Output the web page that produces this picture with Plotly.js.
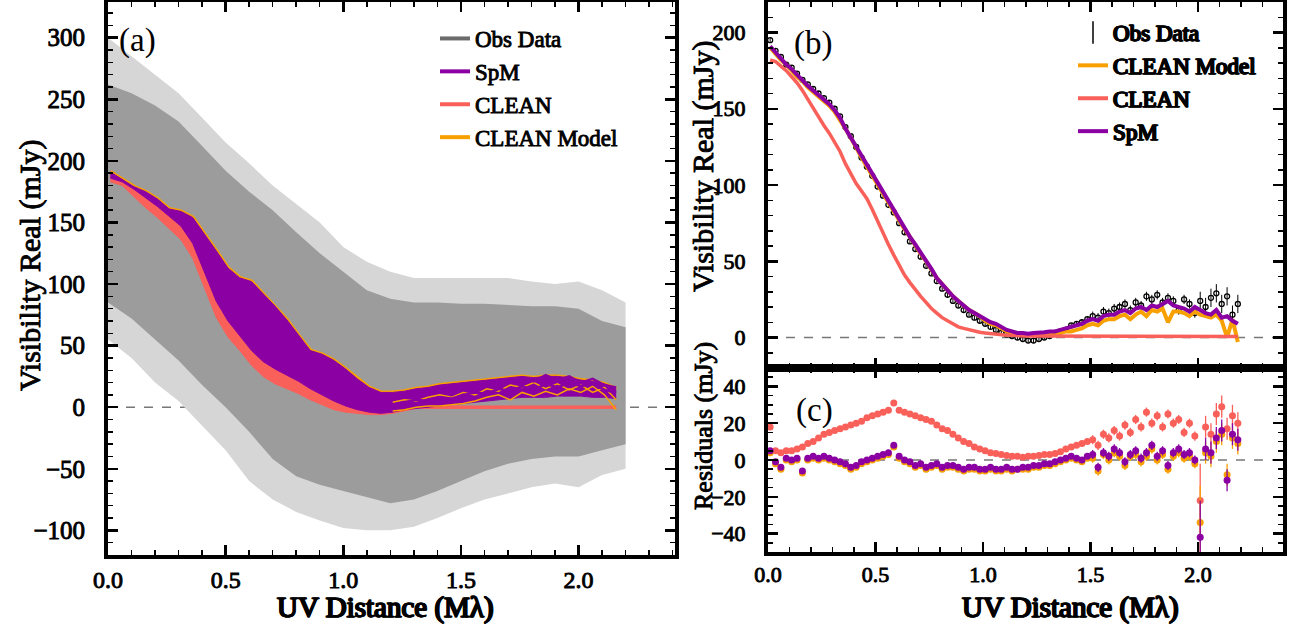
<!DOCTYPE html>
<html><head><meta charset="utf-8">
<script src="https://cdn.plot.ly/plotly-3.0.1.min.js"></script>
<style>
html,body{margin:0;padding:0;background:#fff}
#chart{width:1294px;height:630px}
/* heavy serif look: regular serif face with a thin outline stroke (panel letters stay regular) */
#chart svg text{stroke:#000 !important;stroke-width:0.9px !important;paint-order:stroke fill;}
#chart g.annotation[data-index="0"] text, #chart g.annotation[data-index="1"] text, #chart g.annotation[data-index="2"] text{stroke:none !important;}
</style>
</head><body><div id="chart"></div>
<script>
// ---------- Panel (a): UV grid sampling ----------
const cloudStart = 0.0, cloudStep = 0.1;           // 0.0 .. 2.2
const cloudDenseHi = [262,255,245,232,212,192,175,160,142,125,110,95,88,85,85,84,84,83,82,82,80,70,65];
const cloudDenseLo = [85,72,55,38,18,0,-20,-42,-56,-63,-68,-73,-78,-75,-68,-60,-52,-46,-42,-40,-40,-35,-30];
const cloudHaloHi  = [300,285,270,255,235,215,198,180,165,150,130,118,110,105,105,105,105,105,102,100,102,95,85];
const cloudHaloLo  = [55,40,20,5,-15,-35,-60,-75,-85,-92,-98,-100,-100,-97,-90,-82,-75,-70,-65,-62,-65,-55,-50];

const bandStart = 0.01, bandStep = 0.05;            // 0.01 .. 2.16
const spmHiA  = [191,185,179,175,169,161,159,154,141,127,113,105,102,92,82,71,58,46,43,38,31,23,16,12,12,13,15,16,18,19,20,21,22,23,24,25,24,25,25,24,22,21,19,15];
const spmLoA  = [186,183,177,170,163,155,147,133,110,86,70,58,46,37,31,26,21,15,10,5,1,-2,-4,-5,-4,-2,-1,0,1,2,3,4,5,6,7,8,8,8,9,9,9,8,8,7];
const cleanHiA = [189,186,180,173,166,158,150,136,113,89,73,61,49,40,34,29,24,18,13,8,4,1,0,0,0,1,1,1,1,1,1,1,1,1,1,1,1,1,1,1,1,1,1,1];
const cleanLoA = [183,180,171,162,154,145,136,121,97,73,57,46,34,25,19,15,11,6,2,-2,-4,-5,-6,-6,-5,-3,-1,-1,-1,-1,-1,-1,-1,-1,-1,-1,-1,-1,-1,-1,-1,-1,-1,-1];

const tailStart = 1.21, tailStep = 0.05;            // 1.21 .. 2.16
const modelTailA = [-3,-2,0,1,1,2,3,5,8,10,6,12,9,13,10,15,12,17,10,-2];
const modelTailB = [4,6,5,8,10,8,12,10,15,13,18,16,20,15,19,14,18,12,16,6];
const spmTailA   = [8,10,12,14,13,17,15,19,17,22,20,24,21,26,22,25,20,23,18,16];
const spmTailB   = [2,4,6,5,8,7,10,12,11,15,13,17,14,19,16,20,17,19,14,12];

// ---------- Panels (b) and (c): binned visibilities ----------
const binStart = 0.01, binStep = 0.025;             // 0.01 .. 2.185
const obsData = [195,188,184,179,177,173,169,166,163,160,157,154,150,145,138,132,125,118,112,106,99,93,87,82,75,69,63,58,53,47,42,37,32,28,24,21,18,15,13,11,9,7,5,3,2,1,0,-1,-2,-2,-1,0,1,3,4,5,8,9,10,12,14,13,17,16,19,20,22,18,23,21,27,25,28,23,26,24,18,25,22,16,24,20,26,29,22,27,15,22];
const obsErr  = [1.5,1.5,1.5,1.5,1.5,1.5,1.5,1.5,1.5,1.5,1.5,1.5,1.5,1.5,1.5,1.5,1.5,1.5,1.5,1.5,1.5,1.5,1.5,1.5,1.5,1.5,1.5,1.5,1.5,1.5,1.5,1.5,1.5,1.5,1.5,1.5,1.5,1.5,1.5,1.5,1.5,1.5,1.5,1.5,1.5,1.5,1.5,1.5,1.5,1.5,1.5,1.5,1.5,1.5,1.5,1.5,1.5,1.5,1.5,1.5,3,3,3,3,3,3,3,3,3,3,3,3,3,3,3,3,3,3,3,3,6,6,6,6,6,6,6,6];
const cleanModel = [190,186,182,179,175,171,168,164,161,158,155,152,148,143,137,131,124,118,112,106,100,94,88,82,77,71,66,60,55,50,44,39,35,31,27,24,21,18,16,14,11,9,8,6,4,3,2,2,1.5,2,2,2,2.5,3,3,4,4,5,6,8,9,8,11,12,12,14,15,12,15,17,14,18,17,19,10,17,17,16,14,17,15,14,13,15,11,0,12,-3];
const cleanImage = [182,181,178,175,171,167,162,156,150,144,139,134,128,122,114,107,101,96,91,84,76,68,61,54,47,41,36,31,27,23,19,16,13,11,9,7,6,5,4,3.5,3,2.5,2,2,1.5,1.5,1,1,1,1,1,1,1,1,1,1,1,1,1,1,1,1,1,1,1,1,1,1,1,1,0.8,0.8,0.8,0.8,0.8,0.8,0.8,0.8,0.8,0.8,0.6,0.6,0.6,0.6,0.6,0.6,0.6,0.6];
const spmModel = [191,187,183,179,176,172,168,165,162,159,156,153,149,144,137,131,125,119,113,107,101,95,89,83,77,72,66,61,56,50,45,39,35,31,27,24,21,18,16,14,12,10,9,7,5,4,3,3,2.5,3,3,3.5,4,4,5,6,7,8,9,11,12,11,14,15,15,17,18,16,19,20,18,21,20,22,24,21,20,19,17,20,18,16,15,18,13,14,11,9];

const resClean = [18,5,4,5,5,6,7,9,10,12,14,15,16,17,18,19,20,21,23,24,25,26,27,31,27,26,25,24,23,22,21,19,17,16,14,12,10,9,7,6,5,4,3.5,3,2.5,2,2,1.5,2,2,2.5,3,3,3.5,4.5,6,7,8,9,10,11,8,14,12,16,13,19,15,22,18,26,20,24,18,25,20,22,15,20,13,-22,18,14,25,29,17,24,20];
const resModel = [4,-2,-5,0,-1,0,-7,0,1,0,1,0,-1,-2,-3,-5,-4,-2,-1,0,1,2,3,7,1,-1,-2,-4,-3,-5,-4,-3,-5,-4,-4,-5,-6,-5,-5,-6,-6,-5,-6,-6,-5,-6,-5,-5,-5,-4,-4,-3,-3,-2,-1,0,1,0,-1,1,1,-6,3,0,4,2,-3,2,3,-1,2,6,0,3,-5,2,4,1,2,-2,-34,4,2,10,14,-8,12,9];
const resSpm   = [5,-1,-4,1,0,1,-6,1,2,1,2,1,0,-1,-2,-4,-3,-1,0,1,2,3,4,8,2,0,-1,-3,-2,-4,-3,-2,-4,-3,-3,-4,-5,-4,-4,-5,-5,-4,-5,-5,-4,-5,-5,-4,-4,-3,-3,-2,-2,-1,0,1,2,1,0,2,3,-4,4,2,6,4,-1,3,5,1,4,8,2,5,-3,4,6,3,4,0,-42,6,4,12,16,-11,14,11];
const resErr   = [1.2,1.2,1.2,1.2,1.2,1.2,1.2,1.2,1.2,1.2,1.2,1.2,1.2,1.2,1.2,1.2,1.2,1.2,1.2,1.2,1.2,1.2,1.2,1.2,1.2,1.2,1.2,1.2,1.2,1.2,1.2,1.2,1.2,1.2,1.2,1.2,1.2,1.2,1.2,1.2,1.2,1.2,1.2,1.2,1.2,1.2,1.2,1.2,1.2,1.2,1.2,1.2,1.2,1.2,1.2,1.2,1.2,1.2,1.2,1.2,2.5,2.5,2.5,2.5,2.5,2.5,2.5,2.5,2.5,2.5,2.5,2.5,2.5,2.5,2.5,2.5,2.5,2.5,2.5,2.5,20,6,6,6,6,6,6,6];

const legendA = ['Obs Data','SpM','CLEAN','CLEAN Model'];
const legendB = ['Obs Data','CLEAN Model','CLEAN','SpM'];

// ---------- styles ----------
const FONT = 'Liberation Serif';
const HEAVY = '0.6px 0 0 #000, -0.4px 0 0 #000';
const COL = {spm:'#8a00a3', clean:'#fa605a', model:'#f8a000', obs:'#000000', cloud:'#9c9c9c', halo:'#d6d6d6', legGray:'#6b6b6b'};
const W = 1294, H = 630;

const traces = [];
function band(x0, dx, lo, hi, color, lineW, xa, ya){
  traces.push({x0:x0, dx:dx, y:lo, mode:'lines', line:{width:lineW, color:color}, showlegend:false, hoverinfo:'skip', xaxis:xa, yaxis:ya});
  traces.push({x0:x0, dx:dx, y:hi, mode:'lines', fill:'tonexty', fillcolor:color, line:{width:lineW, color:color}, showlegend:false, hoverinfo:'skip', xaxis:xa, yaxis:ya});
}
function line(x0, dx, y, color, w, xa, ya){
  traces.push({x0:x0, dx:dx, y:y, mode:'lines', line:{width:w, color:color}, showlegend:false, hoverinfo:'skip', xaxis:xa, yaxis:ya});
}

// panel (a)
band(cloudStart, cloudStep, cloudHaloLo, cloudHaloHi, COL.halo, 0, 'x', 'y');
band(cloudStart, cloudStep, cloudDenseLo, cloudDenseHi, COL.cloud, 0, 'x', 'y');
band(bandStart, bandStep, cleanLoA, cleanHiA, COL.clean, 1, 'x', 'y');
line(bandStart, bandStep, spmHiA, COL.model, 4, 'x', 'y');
band(bandStart, bandStep, spmLoA, spmHiA, COL.spm, 1, 'x', 'y');
line(tailStart, tailStep, modelTailA, COL.model, 1.5, 'x', 'y');
line(tailStart, tailStep, modelTailB, COL.model, 1.5, 'x', 'y');
line(tailStart, tailStep, spmTailA, COL.spm, 2.5, 'x', 'y');
line(tailStart, tailStep, spmTailB, COL.spm, 2.5, 'x', 'y');

// legend (a)
const legColA = [COL.legGray, COL.spm, COL.clean, COL.model];
legendA.forEach((n,i)=>traces.push({x:[null], y:[null], mode:'lines', name:n, line:{color:legColA[i], width:4}, legend:'legend', legendgroup:'a'+i, xaxis:'x', yaxis:'y'}));

// panel (b)
traces.push({x0:binStart, dx:binStep, y:obsData, mode:'markers', marker:{symbol:'circle-open', size:5, color:COL.obs, line:{width:1.3, color:COL.obs}},
  error_y:{type:'data', array:obsErr, thickness:1, width:0, color:COL.obs}, showlegend:false, xaxis:'x2', yaxis:'y2'});
line(binStart, binStep, cleanModel, COL.model, 4, 'x2', 'y2');
line(binStart, binStep, cleanImage, COL.clean, 3.5, 'x2', 'y2');
line(binStart, binStep, spmModel, COL.spm, 4, 'x2', 'y2');

// legend (b)
traces.push({x:[null], y:[null], mode:'markers', name:legendB[0], marker:{symbol:'line-ns-open', size:22, color:'black', line:{width:1.5, color:'black'}}, legend:'legend2', legendgroup:'b0', xaxis:'x2', yaxis:'y2'});
const legColB = [null, COL.model, COL.clean, COL.spm];
for (let i=1;i<4;i++) traces.push({x:[null], y:[null], mode:'lines', name:legendB[i], line:{color:legColB[i], width:4}, legend:'legend2', legendgroup:'b'+i, xaxis:'x2', yaxis:'y2'});

// panel (c)
[[resClean, COL.clean],[resModel, COL.model],[resSpm, COL.spm]].forEach(([arr,c])=>{
  traces.push({x0:binStart, dx:binStep, y:arr, mode:'markers', marker:{size:7, color:c},
    error_y:{type:'data', array:resErr, thickness:1.3, width:0, color:c}, showlegend:false, xaxis:'x3', yaxis:'y3'});
});

// ---------- layout ----------
function axis(extra, minorDtick, fontSize){
  return Object.assign({
    showline:true, linewidth:4, linecolor:'black', mirror:'allticks',
    ticks:'inside', ticklen:10, tickwidth:2.5, tickcolor:'black',
    showgrid:false, zeroline:false, fixedrange:true,
    minor:{ticks:'inside', ticklen:5, tickwidth:1.5, tickcolor:'black', dtick:minorDtick, showgrid:false},
    tickfont:{family:FONT, size:fontSize, color:'black'}
  }, extra);
}
const xDomA = [108/W, 675/W], xDomB = [768/W, 1283/W];
const titleFont = s => ({family:FONT, size:s, color:'black'});
const heavyFont = s => ({family:FONT, size:s, color:'black', shadow:HEAVY});
const layout = {
  width:W, height:H, margin:{l:0,r:0,t:0,b:0}, paper_bgcolor:'white', plot_bgcolor:'white',
  showlegend:true,
  xaxis: axis({domain:xDomA, range:[0,2.41], dtick:0.5, tick0:0, tickformat:'.1f', anchor:'y', ticklabelstandoff:0}, 0.1, 24),
  yaxis: axis({domain:[1-555/H, 1-2/H], range:[-120,329], dtick:50, tick0:0, anchor:'x', ticklabelstandoff:14}, 10, 25),
  xaxis2: axis({domain:xDomB, range:[0,2.395], dtick:0.5, tick0:0, anchor:'y2', showticklabels:false}, 0.1, 22),
  yaxis2: axis({domain:[1-368/H, 1-2/H], range:[-20,220], dtick:50, tick0:0, anchor:'x2', ticklabelstandoff:14}, 10, 22),
  xaxis3: axis({domain:xDomB, range:[0,2.395], dtick:0.5, tick0:0, tickformat:'.1f', anchor:'y3', ticklabelstandoff:0}, 0.1, 22),
  yaxis3: axis({domain:[1-552/H, 1-368/H], range:[-50,50], dtick:20, tick0:0, anchor:'x3', ticklabelstandoff:14}, 5, 22),
  legend: {x:435/W, y:1-17/H, xanchor:'left', yanchor:'top', bgcolor:'rgba(0,0,0,0)', font:{family:FONT, size:23, color:'black'}, tracegroupgap:0, itemwidth:30},
  legend2:{x:1073/W, y:1-11/H, xanchor:'left', yanchor:'top', bgcolor:'rgba(0,0,0,0)', font:heavyFont(23), tracegroupgap:0, itemwidth:30},
  shapes: [
    {type:'line', xref:'x domain', x0:0, x1:1, yref:'y', y0:0, y1:0, layer:'below', line:{color:'#777', width:1.5, dash:'dash'}},
    {type:'line', xref:'x2 domain', x0:0, x1:1, yref:'y2', y0:0, y1:0, layer:'below', line:{color:'#777', width:1.5, dash:'dash'}},
    {type:'line', xref:'x3 domain', x0:0, x1:1, yref:'y3', y0:0, y1:0, layer:'below', line:{color:'#777', width:1.5, dash:'dash'}}
  ],
  annotations: [
    {text:'(a)', xref:'paper', yref:'paper', x:117/W, y:1-40/H, xanchor:'left', yanchor:'middle', showarrow:false, font:{family:FONT, size:33, color:'black'}},
    {text:'(b)', xref:'paper', yref:'paper', x:792/W, y:1-44/H, xanchor:'left', yanchor:'middle', showarrow:false, font:{family:FONT, size:33, color:'black'}},
    {text:'(c)', xref:'paper', yref:'paper', x:794/W, y:1-410/H, xanchor:'left', yanchor:'middle', showarrow:false, font:{family:FONT, size:33, color:'black'}},
    {text:'Visibility Real (mJy)', textangle:-90, xref:'paper', yref:'paper', x:30/W, y:1-265/H, xanchor:'center', yanchor:'middle', showarrow:false, font:titleFont(30)},
    {text:'UV Distance (Mλ)', xref:'paper', yref:'paper', x:385/W, y:1-607/H, xanchor:'center', yanchor:'middle', showarrow:false, font:heavyFont(29)},
    {text:'Visibility Real (mJy)', textangle:-90, xref:'paper', yref:'paper', x:703/W, y:1-166/H, xanchor:'center', yanchor:'middle', showarrow:false, font:titleFont(30)},
    {text:'Residuals (mJy)', textangle:-90, xref:'paper', yref:'paper', x:703/W, y:1-426/H, xanchor:'center', yanchor:'middle', showarrow:false, font:titleFont(26)},
    {text:'UV Distance (Mλ)', xref:'paper', yref:'paper', x:1070/W, y:1-607/H, xanchor:'center', yanchor:'middle', showarrow:false, font:heavyFont(29)}
  ]
};
Plotly.newPlot('chart', traces, layout, {displayModeBar:false, staticPlot:true});
</script></body></html>
